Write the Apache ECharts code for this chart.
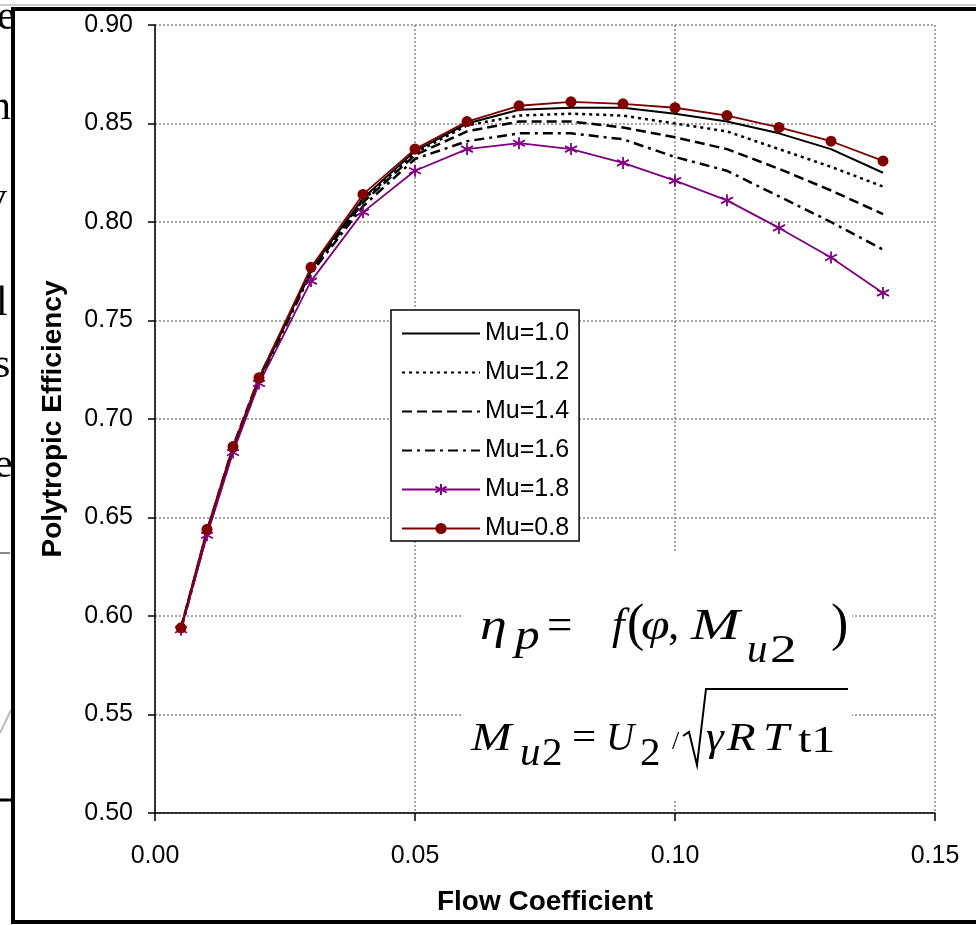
<!DOCTYPE html>
<html>
<head>
<meta charset="utf-8">
<script src="https://cdn.jsdelivr.net/npm/echarts@6/dist/echarts.min.js"></script>
<style>html,body{margin:0;padding:0;background:#fff}#c{width:976px;height:925px}</style>
</head>
<body>
<div id="c"></div>
<script>
// ---- data ----
const flow = [0.005,0.01,0.015,0.02,0.03,0.04,0.05,0.06,0.07,0.08,0.09,0.10,0.11,0.12,0.13,0.14];
const mu10 = [0.594,0.642,0.685,0.720,0.776,0.812,0.836,0.850,0.857,0.858,0.858,0.855,0.851,0.845,0.837,0.825];
const mu12 = [0.594,0.642,0.685,0.720,0.776,0.811,0.835,0.849,0.854,0.855,0.854,0.850,0.846,0.837,0.828,0.818];
const mu14 = [0.594,0.643,0.686,0.721,0.775,0.810,0.834,0.846,0.851,0.851,0.848,0.843,0.837,0.827,0.816,0.804];
const mu16 = [0.593,0.642,0.684,0.719,0.774,0.808,0.832,0.841,0.845,0.845,0.842,0.833,0.826,0.813,0.800,0.786];
const mu18 = [0.593,0.641,0.683,0.718,0.770,0.805,0.826,0.837,0.840,0.837,0.830,0.821,0.811,0.797,0.782,0.764];
const mu08 = [0.594,0.644,0.686,0.721,0.777,0.814,0.837,0.851,0.859,0.861,0.860,0.858,0.854,0.848,0.841,0.831];
const seriesNames = ['Mu=1.0','Mu=1.2','Mu=1.4','Mu=1.6','Mu=1.8','Mu=0.8'];
const xTitle = 'Flow Coefficient';
const yTitle = 'Polytropic Efficiency';

const pair = arr => flow.map((x,i)=>[x,arr[i]]);
const chart = echarts.init(document.getElementById('c'), null, {renderer:'canvas'});
const SANS = 'Liberation Sans, Arial, sans-serif';
const SERIF = 'Liberation Serif, Times New Roman, serif';
const star = 'path://M5,0L5,10M0.7,2.5L9.3,7.5M0.7,7.5L9.3,2.5';

function t(text, x, base, size, italic, sx){
  return {type:'text', z:20, x: x, y: base - 0.34*size, scaleX: sx||1, originX:0, originY:0,
    style:{text, x:0, y:0, verticalAlign:'middle', align:'left',
    font: (italic?'italic ':'') + size + 'px ' + SERIF, fill:'#000'}};
}
function frag(text, x, base){
  return {type:'text', z:-10, style:{text, x, y: base - 0.34*42, verticalAlign:'middle', font:'42px '+SERIF, fill:'#000'}};
}

const graphics = [
  // background fragments (left of frame)
  frag('e', -3, 32), frag('n', -10, 122), frag('v', -14, 213), frag('l', -4, 318), frag('s', -6, 380), frag('e', -6, 480),
  {type:'line', z:-10, shape:{x1:0,y1:553,x2:10,y2:553}, style:{stroke:'#888', lineWidth:2}},
  {type:'line', z:-10, shape:{x1:0,y1:733,x2:11,y2:710}, style:{stroke:'#bbb', lineWidth:2}},
  {type:'line', z:-10, shape:{x1:0,y1:800,x2:12,y2:800}, style:{stroke:'#000', lineWidth:3}},
  {type:'line', z:-10, shape:{x1:0,y1:5,x2:976,y2:5}, style:{stroke:'#999', lineWidth:1}},
  // frame
  {type:'rect', z:-5, shape:{x:13,y:9,width:990,height:913}, style:{fill:'#fff', stroke:'#000', lineWidth:4}},
  // white box behind formulas
  {type:'rect', z:5, shape:{x:463,y:553,width:389,height:247}, style:{fill:'#fff'}},
  // line 1: eta_p = f(phi, M_u2)
  t('η', 480, 642, 45, true, 1.2), t('p', 515, 652, 45, true, 1.1), t('=', 547, 642, 45, false),
  t('f', 612, 642, 45, true), t('(', 627, 644, 52, false), t('φ', 641, 642, 45, true, 1.15),
  t(',', 668, 642, 45, false), t('M', 691, 642, 45, true, 1.3), t('u', 747, 665, 41, true),
  t('2', 770, 665, 41, false, 1.3), t(')', 831, 644, 52, false),
  // line 2: M_u2 = U_2 / sqrt(gamma R T_t1)
  t('M', 471, 753, 39, true, 1.25), t('u', 520, 768, 41, true), t('2', 542, 768, 41, false),
  t('=', 572, 753, 39, false, 1.1), t('U', 606, 753, 39, true), t('2', 640, 768, 41, false),
  t('/', 672, 751, 26, false), t('γ', 706, 753, 39, true, 1.15), t('R', 727, 753, 39, true, 1.2),
  t('T', 763, 753, 39, true, 1.2), t('t1', 798, 755, 37, false, 1.3),
  {type:'polyline', z:20, shape:{points:[[683,736],[689,732],[697,765],[706,689],[848,689]]}, style:{stroke:'#000', lineWidth:2, fill:null}}
];

const black = '#000';
const noSym = {color:'rgba(0,0,0,0)', borderColor:'rgba(0,0,0,0)', borderWidth:0};
const option = {
  backgroundColor: 'transparent',
  animation: false,
  grid: {left:155, right:41, top:25, bottom:112, containLabel:false},
  xAxis: {
    type:'value', min:0, max:0.15, interval:0.05,
    name: xTitle, nameLocation:'middle', nameGap:75,
    nameTextStyle:{fontFamily:SANS, fontWeight:'bold', fontSize:28, color:'#000'},
    axisLine:{onZero:false, lineStyle:{color:black, width:1.5}},
    axisTick:{show:true, length:8, lineStyle:{color:black, width:1.5}},
    axisLabel:{margin:31, fontFamily:SANS, fontSize:25, color:'#000', formatter:v=>v.toFixed(2)},
    splitLine:{show:true, lineStyle:{color:'#888', type:[2,2], width:1.5}}
  },
  yAxis: {
    type:'value', min:0.5, max:0.9, interval:0.05,
    name: yTitle, nameLocation:'middle', nameGap:88, nameRotate:90,
    nameTextStyle:{fontFamily:SANS, fontWeight:'bold', fontSize:28, color:'#000'},
    axisLine:{onZero:false, lineStyle:{color:black, width:1.5}},
    axisTick:{show:true, length:7, lineStyle:{color:black, width:1.5}},
    axisLabel:{margin:22, fontFamily:SANS, fontSize:25, color:'#000', formatter:v=>v.toFixed(2)},
    splitLine:{show:true, lineStyle:{color:'#888', type:[2,2], width:1.5}}
  },
  legend: {
    orient:'vertical', left:391, top:310, width:187,
    data: [
      {name:seriesNames[0], itemStyle:noSym},
      {name:seriesNames[1], itemStyle:noSym},
      {name:seriesNames[2], itemStyle:noSym},
      {name:seriesNames[3], itemStyle:noSym},
      {name:seriesNames[4]},
      {name:seriesNames[5]}
    ],
    backgroundColor:'#fff', borderColor:'#000', borderWidth:1.5, borderRadius:0,
    padding:[11,10,0,10], itemGap:14, itemWidth:78, itemHeight:14,
    textStyle:{fontFamily:SANS, fontSize:25, color:'#000'}, z:10
  },
  graphic: graphics,
  series: [
    {name:seriesNames[0], type:'line', data:pair(mu10), symbol:'none', z:3,
      lineStyle:{color:'#000', width:2, type:'solid'}, itemStyle:{color:'#000'}},
    {name:seriesNames[1], type:'line', data:pair(mu12), symbol:'none', z:3,
      lineStyle:{color:'#000', width:2.5, type:[3,4]}, itemStyle:{color:'#000'}},
    {name:seriesNames[2], type:'line', data:pair(mu14), symbol:'none', z:3,
      lineStyle:{color:'#000', width:2.5, type:[10,5]}, itemStyle:{color:'#000'}},
    {name:seriesNames[3], type:'line', data:pair(mu16), symbol:'none', z:3,
      lineStyle:{color:'#000', width:2.5, type:[10,5,3,5]}, itemStyle:{color:'#000'}},
    {name:seriesNames[4], type:'line', data:pair(mu18), symbol:star, symbolSize:12, z:4,
      lineStyle:{color:'#800080', width:1.8}, itemStyle:{color:'#800080', borderColor:'#800080', borderWidth:1.8}},
    {name:seriesNames[5], type:'line', data:pair(mu08), symbol:'circle', symbolSize:11, z:4,
      lineStyle:{color:'#800000', width:1.8}, itemStyle:{color:'#800000'}}
  ]
};
chart.setOption(option);
</script>
</body>
</html>
